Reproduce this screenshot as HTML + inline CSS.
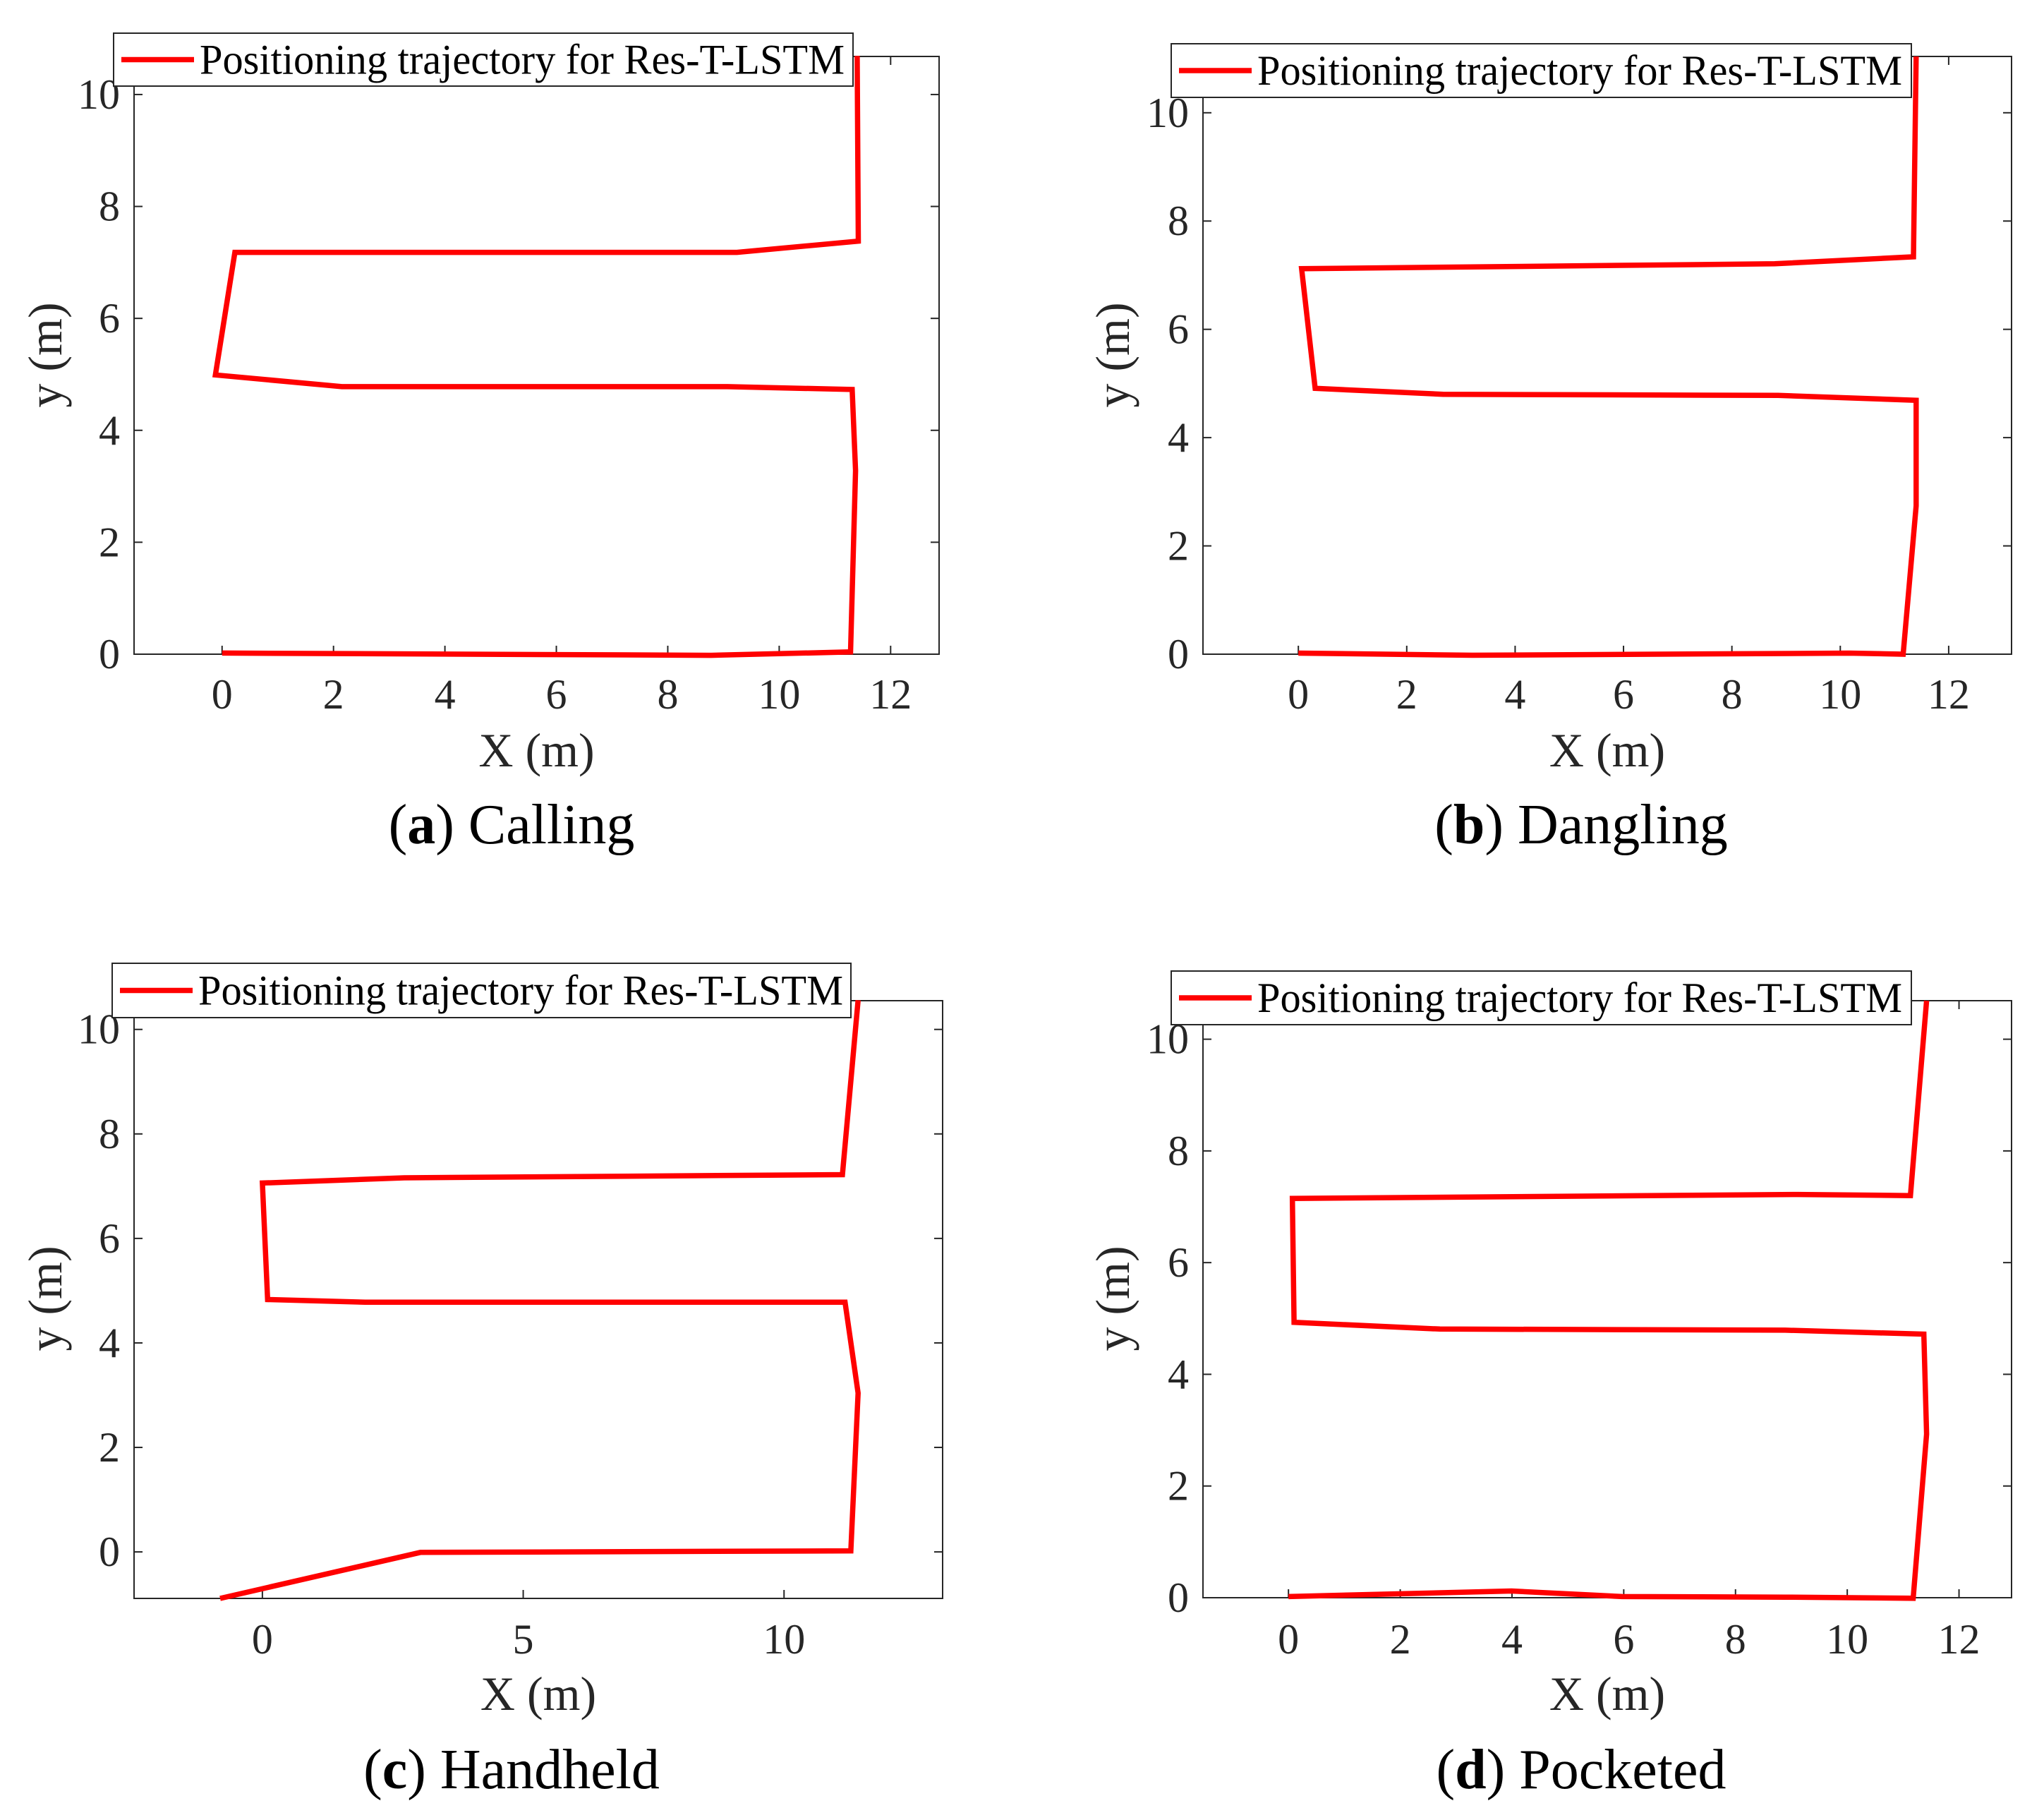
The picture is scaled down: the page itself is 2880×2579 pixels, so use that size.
<!DOCTYPE html>
<html><head><meta charset="utf-8"><style>
html,body{margin:0;padding:0;background:#fff;}
svg{display:block;}
text{font-family:"Liberation Serif",serif;fill:#262626;}
</style></head><body>
<svg id="fig" width="2880" height="2579" viewBox="0 0 2880 2579" xmlns="http://www.w3.org/2000/svg"></svg>
<script>
// ---- data ----
const xA=[0,8.78,11.28,11.37,11.31,9.07,2.15,-0.12,0.23,8.02,9.24,11.42,11.4];
const yA=[0.02,-0.02,0.04,3.28,4.73,4.78,4.78,4.99,7.18,7.18,7.18,7.38,10.69];
const xB=[0,3.21,10.17,11.16,11.40,11.40,8.85,2.67,0.31,0.06,8.79,11.35,11.40];
const yB=[0.02,-0.02,0.02,0,2.74,4.69,4.78,4.80,4.91,7.12,7.21,7.34,11.04];
const xC=[-0.81,3.03,11.28,11.42,11.17,1.97,0.10,0,2.72,11.12,11.42];
const yC=[-0.89,-0.01,0.02,3.04,4.78,4.78,4.83,7.06,7.16,7.22,10.56];
const xD=[0,3.99,5.97,8.89,11.18,11.42,11.37,8.89,2.71,0.10,0.07,9.12,11.13,11.42];
const yD=[0.02,0.12,0.02,0.01,-0.01,2.93,4.72,4.79,4.81,4.93,7.15,7.22,7.20,10.69];
const ticksX12=[0,2,4,6,8,10,12];
const ticksX10=[0,5,10];
const ticksY=[0,2,4,6,8,10];
const captionsL=["a","b","c","d"];
const captionsT=["Calling","Dangling","Handheld","Pocketed"];

const panels=[
 {id:"a",L:190,R:1331,T:80,B:927,xmin:-1.58,xmax:12.87,ymin:0,ymax:10.68,xs:xA,ys:yA,tx:ticksX12,leg:[161,47,1209,122],capX:725,capY:1195,tickY:1004,xlabY:1086,ylabX:65,ylabY:503},
 {id:"b",L:1705,R:2851,T:80,B:927,xmin:-1.76,xmax:13.16,ymin:0,ymax:11.04,xs:xB,ys:yB,tx:ticksX12,leg:[1660,62,2709,138],capX:2241,capY:1195,tickY:1004,xlabY:1086,ylabX:1578,ylabY:503},
 {id:"c",L:190,R:1336,T:1418,B:2265,xmin:-2.46,xmax:13.04,ymin:-0.89,ymax:10.55,xs:xC,ys:yC,tx:ticksX10,leg:[159,1365,1206,1442],capX:725,capY:2534,tickY:2343,xlabY:2423,ylabX:65,ylabY:1840},
 {id:"d",L:1705,R:2851,T:1418,B:2264,xmin:-1.53,xmax:12.94,ymin:0,ymax:10.69,xs:xD,ys:yD,tx:ticksX12,leg:[1660,1376,2709,1452],capX:2241,capY:2534,tickY:2343,xlabY:2423,ylabX:1578,ylabY:1840}
];
const NS="http://www.w3.org/2000/svg";
const svg=document.getElementById("fig");
function mk(tag,attrs,parent){const e=document.createElementNS(NS,tag);for(const k in attrs)e.setAttribute(k,attrs[k]);(parent||svg).appendChild(e);return e;}

panels.forEach(p=>{
  const g=mk("g",{});
  
  
  const sx=v=>p.L+(v-p.xmin)/(p.xmax-p.xmin)*(p.R-p.L);
  const sy=v=>p.B-(v-p.ymin)/(p.ymax-p.ymin)*(p.B-p.T);
  const box=mk("rect",{x:p.L,y:p.T,width:p.R-p.L,height:p.B-p.T,fill:"none",stroke:"#262626","stroke-width":2},g);
  
  
  p.tx.forEach(t=>{
    const x=sx(t);
    mk("line",{x1:x,y1:p.B,x2:x,y2:p.B-12,stroke:"#262626","stroke-width":2},g);
    mk("line",{x1:x,y1:p.T,x2:x,y2:p.T+12,stroke:"#262626","stroke-width":2},g);
    const tl=mk("text",{x:x,y:p.tickY,"font-size":60,"text-anchor":"middle"},g);
    tl.textContent=t;
    
    
  });
  ticksY.forEach(t=>{
    const y=sy(t);
    mk("line",{x1:p.L,y1:y,x2:p.L+12,y2:y,stroke:"#262626","stroke-width":2},g);
    mk("line",{x1:p.R,y1:y,x2:p.R-12,y2:y,stroke:"#262626","stroke-width":2},g);
    const tl=mk("text",{x:p.L-20,y:y+20,"font-size":60,"text-anchor":"end"},g);
    tl.textContent=t;
    
    
  });
  const pts=p.xs.map((v,i)=>sx(v).toFixed(1)+","+sy(p.ys[i]).toFixed(1)).join(" ");
  const pl=mk("polyline",{points:pts,fill:"none",stroke:"#ff0000","stroke-width":7.5,"stroke-linejoin":"miter"},g);
  
  
  const [lx1,ly1,lx2,ly2]=p.leg;
  const lg=mk("g",{},g);
  
  
  mk("rect",{x:lx1,y:ly1,width:lx2-lx1,height:ly2-ly1,fill:"#fff",stroke:"#262626","stroke-width":2},lg);
  const ly=(ly1+ly2)/2;
  mk("line",{x1:lx1+11,y1:ly,x2:lx1+114,y2:ly,stroke:"#ff0000","stroke-width":7.5},lg);
  const lt=mk("text",{x:lx1+122,y:ly+20,"font-size":60,fill:"#000",style:"fill:#000",textLength:914,lengthAdjust:"spacingAndGlyphs"},lg);
  lt.textContent="Positioning trajectory for  Res-T-LSTM";
  
  
  const xl=mk("text",{x:(p.L+p.R)/2,y:p.xlabY,"font-size":68,"text-anchor":"middle"},g);
  xl.textContent="X (m)";
  
  
  const yl=mk("text",{x:0,y:0,"font-size":68,"text-anchor":"middle",transform:`translate(${p.ylabX+22},${p.ylabY}) rotate(-90)`},g);
  yl.textContent="y (m)";
  
  
  const i=panels.indexOf(p);
  const cp=mk("text",{x:p.capX,y:p.capY,"font-size":80,"text-anchor":"middle",fill:"#000",style:"fill:#000"},g);
  cp.innerHTML=`(<tspan font-weight="bold">${captionsL[i]}</tspan>) ${captionsT[i]}`;
  
  
});
</script>
</body></html>
